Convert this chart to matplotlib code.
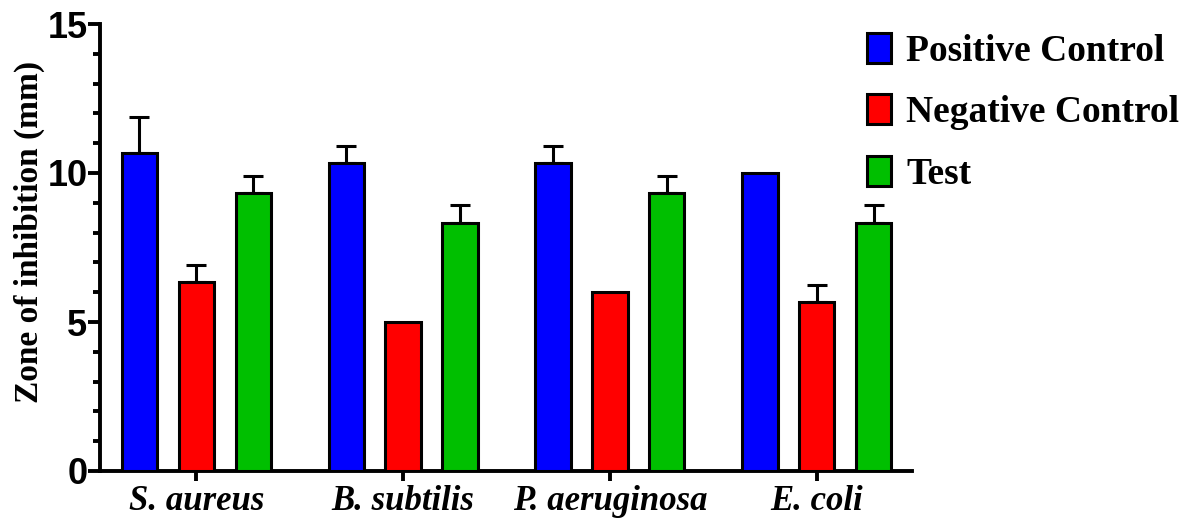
import matplotlib
matplotlib.use("Agg")
import matplotlib.pyplot as plt
import numpy as np
from matplotlib.ticker import MultipleLocator

# ---------------------------------------------------------------- data
ORGANISMS = ["S. aureus", "B. subtilis", "P. aeruginosa", "E. coli"]
SERIES = ["Positive Control", "Negative Control", "Test"]

positive = [10.67, 10.33, 10.33, 10.0]
negative = [6.33, 5.0, 6.0, 5.67]
test = [9.33, 8.33, 9.33, 8.33]

positive_err = [1.2, 0.58, 0.58, 0.0]
negative_err = [0.58, 0.0, 0.0, 0.58]
test_err = [0.58, 0.58, 0.58, 0.58]

COLORS = ["#0000FF", "#FF0000", "#00BF00"]

# ---------------------------------------------------------------- style
SERIF = ["Liberation Serif", "DejaVu Serif"]
SANS = ["Liberation Sans", "DejaVu Sans"]
LW = 2.2

fig = plt.figure(figsize=(11.88, 5.19), dpi=100)
ax = fig.add_axes([100 / 1188, 48 / 519, 812 / 1188, 447 / 519])

x = np.arange(len(ORGANISMS))
offset, width = 0.275, 0.17
values = [positive, negative, test]
errors = [positive_err, negative_err, test_err]

for i, (vals, errs, name, col) in enumerate(zip(values, errors, SERIES, COLORS)):
    xs = x + (i - 1) * offset
    ax.bar(xs, vals, width, color=col, edgecolor="black", linewidth=LW,
           label=name, zorder=3)
    errs = np.asarray(errs)
    keep = errs > 0
    ax.errorbar(xs[keep], np.asarray(vals)[keep],
                yerr=[np.zeros(keep.sum()), errs[keep]],
                fmt="none", ecolor="black", elinewidth=LW, capsize=7,
                capthick=LW, zorder=2)

ax.set_xlim(-0.465, 3.46)
ax.set_ylim(0, 15)
ax.yaxis.set_major_locator(MultipleLocator(5))
ax.yaxis.set_minor_locator(MultipleLocator(1))
ax.set_xticks(x)
ax.set_xticklabels(ORGANISMS, family=SERIF, fontweight="bold",
                   style="italic", fontsize=25)
for lab in ax.get_yticklabels():
    lab.set_family(SANS)
    lab.set_fontweight("bold")
    lab.set_fontsize(26)

for side in ["top", "right"]:
    ax.spines[side].set_visible(False)
for side in ["left", "bottom"]:
    ax.spines[side].set_linewidth(2.8)

ax.tick_params(axis="y", which="major", length=9, width=2.8, pad=0)
ax.tick_params(axis="y", which="minor", length=5, width=2.8)
ax.tick_params(axis="x", which="major", length=7, width=2.8, pad=3)

ax.set_ylabel("Zone of inhibition (mm)", family=SERIF, fontweight="bold",
              fontsize=24)
ax.yaxis.set_label_coords(-0.068, 0.535)

leg = ax.legend(loc="upper left", bbox_to_anchor=(867 / 1188, 486 / 519),
                bbox_transform=fig.transFigure, frameon=False,
                prop={"family": SERIF, "weight": "bold", "size": 27},
                handlelength=0.64, handleheight=0.85, handletextpad=0.4,
                labelspacing=0.68, borderaxespad=0, borderpad=0)

fig.savefig("out.png", dpi=100)
